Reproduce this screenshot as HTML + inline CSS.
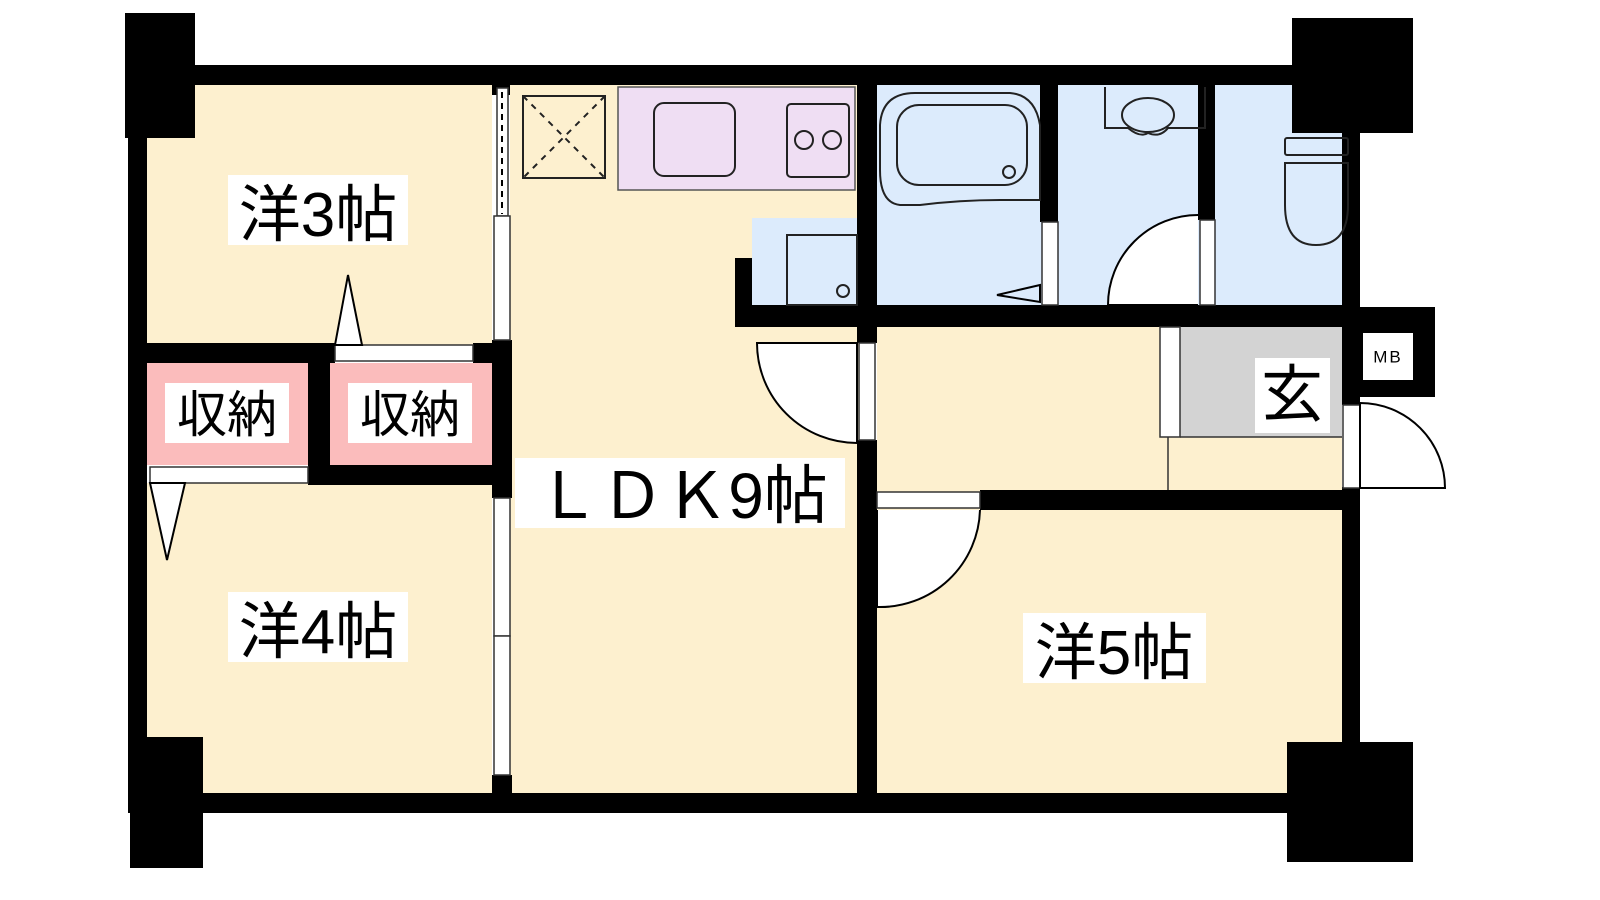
<!DOCTYPE html>
<html><head><meta charset="utf-8"><style>
html,body{margin:0;padding:0;background:#fff}
svg{display:block}
text{font-family:"Liberation Sans","Noto Sans CJK JP",sans-serif}
</style></head><body>
<svg width="1600" height="900" viewBox="0 0 1600 900" xmlns="http://www.w3.org/2000/svg">
<rect width="1600" height="900" fill="#fff"/>
<g fill="#fdf0cf">
<rect x="147" y="85" width="345" height="260"/>
<rect x="147" y="483" width="345" height="312"/>
<rect x="510" y="85" width="349" height="710"/>
<rect x="877" y="327" width="465" height="165"/>
<rect x="877" y="508" width="465" height="287"/>
</g>
<g fill="#fbbcbc">
<rect x="147" y="363" width="163" height="102"/>
<rect x="330" y="363" width="162" height="102"/>
</g>
<g fill="#dcebfc">
<rect x="877" y="85" width="165" height="222"/>
<rect x="1058" y="85" width="142" height="222"/>
<rect x="1215" y="85" width="127" height="222"/>
<rect x="752" y="218" width="105" height="89"/>
</g>
<rect x="1180" y="327" width="162" height="110" fill="#d3d3d3"/>
<rect x="618" y="87" width="237" height="103" fill="#efdef3" stroke="#555" stroke-width="1.5"/>
<g fill="#000">
<rect x="125" y="65" width="1235" height="20"/>
<rect x="125" y="13" width="70" height="125"/>
<rect x="1292" y="18" width="121" height="115"/>
<rect x="128" y="85" width="19" height="725"/>
<rect x="128" y="793" width="1232" height="20"/>
<rect x="130" y="737" width="73" height="131"/>
<rect x="1287" y="742" width="126" height="120"/>
<rect x="1342" y="133" width="18" height="272"/>
<rect x="1342" y="487" width="18" height="308"/>
<rect x="1342" y="307" width="93" height="90"/>
<rect x="857" y="85" width="20" height="258"/>
<rect x="857" y="440" width="20" height="355"/>
<rect x="492" y="85" width="18" height="10"/>
<rect x="492" y="340" width="20" height="20"/>
<rect x="473" y="343" width="39" height="20"/>
<rect x="492" y="343" width="20" height="155"/>
<rect x="492" y="775" width="20" height="20"/>
<rect x="147" y="343" width="188" height="20"/>
<rect x="308" y="363" width="22" height="120"/>
<rect x="308" y="465" width="204" height="20"/>
<rect x="735" y="258" width="17" height="69"/>
<rect x="735" y="305" width="625" height="22"/>
<rect x="1040" y="85" width="18" height="137"/>
<rect x="1198" y="85" width="17" height="135"/>
<rect x="980" y="490" width="380" height="20"/>
</g>
<rect x="1363" y="333" width="50" height="47" fill="#fff"/>
<text x="1388" y="358" font-size="17" text-anchor="middle" dominant-baseline="middle" letter-spacing="2">MB</text>
<g fill="#fff" stroke="#333" stroke-width="1.5">
<rect x="497" y="88" width="11" height="128"/>
<rect x="494" y="216" width="16" height="124"/>
<rect x="494" y="498" width="16" height="138"/>
<rect x="494" y="636" width="16" height="139"/>
<rect x="335" y="345" width="138" height="16"/>
<rect x="150" y="467" width="158" height="16"/>
<rect x="859" y="343" width="16" height="97"/>
<rect x="1042" y="222" width="16" height="83"/>
<rect x="1200" y="220" width="15" height="85"/>
<rect x="877" y="492" width="103" height="16"/>
<rect x="1160" y="327" width="20" height="110"/>
<rect x="1343" y="405" width="17" height="83"/>
</g>
<line x1="502" y1="92" x2="502" y2="214" stroke="#000" stroke-width="2" stroke-dasharray="6,5"/>
<line x1="1168" y1="437" x2="1168" y2="490" stroke="#333" stroke-width="1.5"/>
<line x1="1180" y1="437" x2="1342" y2="437" stroke="#333" stroke-width="1.5"/>
<g fill="#fff" stroke="#000" stroke-width="2">
<path d="M857 343 L757 343 A100 100 0 0 0 857 443 Z"/>
<path d="M877 510 L877 607 A100 100 0 0 0 980 510"/>
<path d="M1198 305 L1108 305 A90 90 0 0 1 1198 215"/>
<path d="M1360 488 L1360 403 A85 85 0 0 1 1445 488 Z"/>
<path d="M348 275 L335 345 L362 345 Z"/>
<path d="M150 483 L167 560 L185 483 Z"/>
<path d="M1040 285 L997 295 L1040 302 Z" fill="#dcebfc"/>
</g>
<g fill="none" stroke="#222" stroke-width="2">
<rect x="523" y="96" width="82" height="82"/>
<path d="M523 96 L605 178 M605 96 L523 178" stroke-dasharray="6,6"/>
<rect x="654" y="103" width="81" height="73" rx="10"/>
<rect x="787" y="104" width="62" height="73" rx="4"/>
<circle cx="804" cy="140" r="9"/><circle cx="832" cy="140" r="9"/>
<rect x="787" y="235" width="70" height="70"/>
<circle cx="843" cy="291" r="6"/>
<path d="M915 93 L1010 93 Q1035 95 1040 125 L1040 200 L1000 200 Q960 200 920 205 L900 205 Q880 203 880 170 L880 125 Q882 93 915 93Z"/>
<rect x="897" y="105" width="130" height="80" rx="22"/>
<circle cx="1009" cy="172" r="6"/>
<path d="M1105 87 L1105 128 L1128 128 Q1140 138 1148 133 Q1160 138 1168 128 L1205 128 L1205 87"/>
<ellipse cx="1148" cy="115" rx="26" ry="17"/>
<rect x="1285" y="138" width="63" height="17" rx="2"/>
<path d="M1285 163 L1348 163 L1348 205 Q1348 245 1316 245 Q1285 245 1285 205 Z"/>
</g>
<g fill="#fff">
<rect x="228" y="175" width="180" height="70"/>
<rect x="228" y="592" width="180" height="70"/>
<rect x="1023" y="613" width="183" height="70"/>
<rect x="515" y="458" width="330" height="70"/>
<rect x="165" y="383" width="124" height="60"/>
<rect x="348" y="383" width="124" height="60"/>
<rect x="1255" y="358" width="75" height="75"/>
</g>
<g font-size="62" text-anchor="middle" fill="#000">
<text x="318" y="236">洋3帖</text>
<text x="318" y="653">洋4帖</text>
<text x="1114" y="674">洋5帖</text>
<text x="682" y="518" font-size="64">ＬＤＫ9帖</text>
<text x="1292" y="416" font-size="62">玄</text>
<text x="227" y="432" font-size="50">収納</text>
<text x="410" y="432" font-size="50">収納</text>
</g>
</svg>
</body></html>
